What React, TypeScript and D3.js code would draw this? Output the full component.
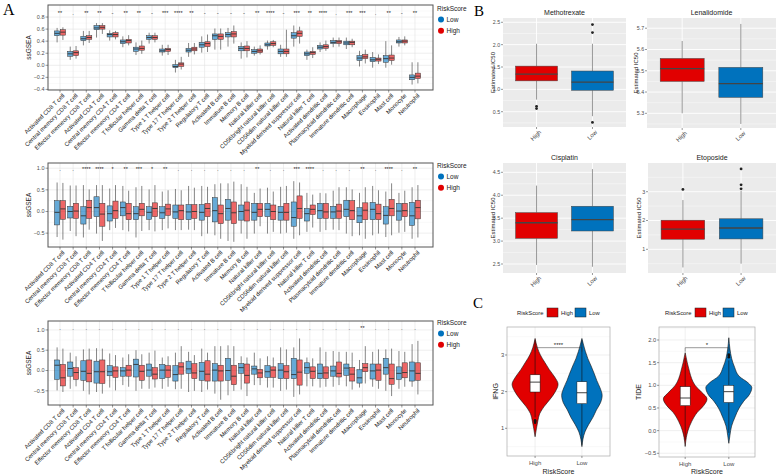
import React from 'react';
import * as d3 from 'd3';

const FONT = "'Liberation Sans', Arial, sans-serif";
const SERIF = "'Liberation Serif', 'Times New Roman', serif";
const RED = '#E10000';
const BLUE = '#0072BD';

const cells = [
  'Activated CD8 T cell', 'Central memory CD8 T cell', 'Effector memeory CD8 T cell',
  'Activated CD4 T cell', 'Central memory CD4 T cell', 'Effector memeory CD4 T cell',
  'T follicular helper cell', 'Gamma delta T cell', 'Type 1 T helper cell',
  'Type 17 T helper cell', 'Type 2 T helper cell', 'Regulatory T cell',
  'Activated B cell', 'Immature B cell', 'Memory B cell', 'Natural killer cell',
  'CD56bright natural killer cell', 'CD56dim natural killer cell',
  'Myeloid derived suppressor cell', 'Natural killer T cell',
  'Activated dendritic cell', 'Plasmacytoid dendritic cell', 'Immature dendritic cell',
  'Macrophage', 'Eosinophil', 'Mast cell', 'Monocyte', 'Neutrophil',
];

// box stats: [min, q1, median, q3, max]
const topLow = [
  [0.38, 0.49, 0.53, 0.57, 0.62], [0.09, 0.15, 0.19, 0.23, 0.31], [0.33, 0.41, 0.44, 0.48, 0.57],
  [0.46, 0.59, 0.62, 0.66, 0.70], [0.41, 0.47, 0.51, 0.53, 0.58], [0.30, 0.36, 0.39, 0.42, 0.48],
  [0.17, 0.23, 0.27, 0.30, 0.38], [0.36, 0.43, 0.46, 0.49, 0.54], [0.16, 0.22, 0.24, 0.27, 0.34],
  [-0.12, -0.04, -0.02, 0.01, 0.09], [0.14, 0.22, 0.25, 0.28, 0.37], [0.21, 0.30, 0.34, 0.38, 0.48],
  [0.26, 0.43, 0.49, 0.52, 0.61], [0.31, 0.47, 0.51, 0.54, 0.62], [0.11, 0.24, 0.28, 0.31, 0.38],
  [0.16, 0.20, 0.23, 0.26, 0.31], [0.26, 0.32, 0.34, 0.37, 0.41], [0.14, 0.19, 0.23, 0.27, 0.34],
  [0.31, 0.45, 0.49, 0.54, 0.66], [0.09, 0.16, 0.19, 0.22, 0.26], [0.22, 0.27, 0.30, 0.33, 0.38],
  [0.30, 0.36, 0.38, 0.41, 0.46], [0.27, 0.34, 0.37, 0.40, 0.46], [-0.02, 0.08, 0.12, 0.16, 0.24],
  [-0.04, 0.06, 0.09, 0.13, 0.22], [-0.04, 0.05, 0.11, 0.16, 0.40], [0.31, 0.37, 0.39, 0.42, 0.47],
  [-0.32, -0.24, -0.20, -0.16, 0.05],
];
const topHigh = [
  [0.42, 0.50, 0.55, 0.59, 0.63], [0.11, 0.16, 0.21, 0.24, 0.32], [0.37, 0.43, 0.46, 0.49, 0.57],
  [0.52, 0.60, 0.63, 0.66, 0.70], [0.43, 0.47, 0.51, 0.54, 0.57], [0.33, 0.37, 0.41, 0.43, 0.50],
  [0.19, 0.25, 0.28, 0.32, 0.41], [0.38, 0.43, 0.46, 0.49, 0.54], [0.17, 0.23, 0.26, 0.28, 0.34],
  [-0.07, -0.02, 0.02, 0.04, 0.14], [0.18, 0.24, 0.27, 0.30, 0.37], [0.22, 0.31, 0.36, 0.39, 0.51],
  [0.26, 0.43, 0.48, 0.52, 0.61], [0.36, 0.47, 0.52, 0.56, 0.66], [0.13, 0.24, 0.28, 0.32, 0.40],
  [0.18, 0.21, 0.24, 0.27, 0.33], [0.30, 0.33, 0.36, 0.39, 0.42], [0.14, 0.19, 0.23, 0.27, 0.59],
  [0.36, 0.48, 0.53, 0.57, 0.64], [0.12, 0.18, 0.21, 0.23, 0.30], [0.24, 0.28, 0.31, 0.34, 0.41],
  [0.31, 0.36, 0.39, 0.41, 0.46], [0.30, 0.34, 0.38, 0.40, 0.44], [0.03, 0.11, 0.14, 0.18, 0.26],
  [0.02, 0.07, 0.10, 0.12, 0.18], [0.01, 0.08, 0.12, 0.17, 0.33], [0.33, 0.37, 0.40, 0.42, 0.48],
  [-0.30, -0.22, -0.18, -0.13, 0.05],
];
const topSig = ['**', '.', '**', '**', '-', '**', '**', '-', '***', '****', '**', '-', '-', '-',
  '-', '**', '****', '-', '***', '**', '****', '.', '***', '***', '.', '**', '-', '**'];

const midLow = [
  [-0.59, -0.31, -0.02, 0.25, 0.67], [-0.45, -0.15, 0.00, 0.12, 0.60], [-0.60, -0.29, -0.10, 0.11, 0.61],
  [-0.51, -0.12, 0.09, 0.34, 0.61], [-0.43, -0.22, -0.05, 0.13, 0.53], [-0.43, -0.10, 0.09, 0.22, 0.59],
  [-0.60, -0.19, -0.05, 0.11, 0.56], [-0.43, -0.18, -0.02, 0.11, 0.51], [-0.43, -0.16, -0.03, 0.11, 0.46],
  [-0.43, -0.16, -0.01, 0.15, 0.52], [-0.42, -0.19, -0.01, 0.16, 0.59], [-0.57, -0.20, -0.02, 0.16, 0.59],
  [-0.55, -0.24, 0.02, 0.32, 0.63], [-0.68, -0.20, 0.07, 0.28, 0.65], [-0.51, -0.20, 0.00, 0.15, 0.63],
  [-0.51, -0.20, -0.02, 0.19, 0.43], [-0.51, -0.12, 0.05, 0.19, 0.55], [-0.51, -0.20, -0.02, 0.12, 0.57],
  [-0.63, -0.34, -0.14, 0.22, 0.70], [-0.47, -0.22, -0.05, 0.07, 0.43], [-0.47, -0.16, 0.02, 0.19, 0.43],
  [-0.42, -0.16, -0.01, 0.12, 0.48], [-0.51, -0.12, 0.05, 0.26, 0.56], [-0.55, -0.26, -0.10, 0.09, 0.43],
  [-0.55, -0.19, 0.05, 0.21, 0.59], [-0.59, -0.29, -0.09, 0.11, 0.46], [-0.49, -0.20, 0.01, 0.19, 0.43],
  [-0.63, -0.32, -0.10, 0.21, 0.56],
];
const midHigh = [
  [-0.65, -0.18, 0.06, 0.25, 0.66], [-0.57, -0.16, 0.01, 0.19, 0.60], [-0.42, -0.16, 0.09, 0.26, 0.51],
  [-0.68, -0.34, -0.06, 0.19, 0.61], [-0.38, -0.16, 0.02, 0.24, 0.61], [-0.46, -0.19, -0.05, 0.19, 0.48],
  [-0.45, -0.10, 0.05, 0.19, 0.59], [-0.46, -0.12, 0.07, 0.20, 0.61], [-0.39, -0.09, 0.06, 0.17, 0.49],
  [-0.43, -0.19, 0.02, 0.15, 0.49], [-0.43, -0.16, 0.00, 0.16, 0.55], [-0.51, -0.12, 0.07, 0.19, 0.57],
  [-0.63, -0.28, -0.05, 0.15, 0.65], [-0.70, -0.28, -0.03, 0.22, 0.69], [-0.63, -0.22, 0.03, 0.22, 0.57],
  [-0.34, -0.12, 0.05, 0.19, 0.53], [-0.47, -0.19, 0.00, 0.15, 0.46], [-0.49, -0.20, -0.02, 0.19, 0.59],
  [-0.55, -0.16, 0.07, 0.36, 0.67], [-0.37, -0.07, 0.05, 0.15, 0.39], [-0.43, -0.16, -0.01, 0.19, 0.42],
  [-0.43, -0.16, 0.01, 0.17, 0.56], [-0.57, -0.19, 0.02, 0.25, 0.51], [-0.63, -0.19, 0.03, 0.20, 0.56],
  [-0.51, -0.19, -0.05, 0.17, 0.49], [-0.55, -0.10, 0.07, 0.28, 0.65], [-0.47, -0.12, 0.02, 0.19, 0.48],
  [-0.60, -0.17, 0.09, 0.26, 0.61],
];
const midSig = ['.', '.', '****', '****', '*', '**', '***', '*', '**', '.', '.', '.', '.', '.',
  '.', '**', '.', '.', '***', '****', '.', '.', '.', '**', '.', '****', '.', '**'];

const botLow = [
  [-0.49, -0.22, 0.13, 0.26, 0.57], [-0.45, -0.14, 0.05, 0.21, 0.44], [-0.50, -0.24, -0.02, 0.24, 0.52],
  [-0.53, -0.31, -0.03, 0.23, 0.55], [-0.42, -0.13, -0.03, 0.12, 0.42], [-0.36, -0.14, -0.01, 0.07, 0.32],
  [-0.50, -0.16, 0.15, 0.28, 0.50], [-0.45, -0.14, 0.01, 0.16, 0.44], [-0.45, -0.20, 0.01, 0.15, 0.32],
  [-0.46, -0.26, -0.10, 0.12, 0.44], [-0.53, -0.07, 0.04, 0.23, 0.46], [-0.53, -0.24, -0.02, 0.20, 0.54],
  [-0.57, -0.26, 0.01, 0.17, 0.60], [-0.61, -0.24, 0.00, 0.30, 0.62], [-0.47, -0.07, 0.07, 0.17, 0.35],
  [-0.36, -0.09, 0.04, 0.11, 0.44], [-0.42, -0.17, -0.03, 0.12, 0.35], [-0.50, -0.20, 0.01, 0.17, 0.57],
  [-0.65, -0.20, -0.10, 0.30, 0.57], [-0.39, -0.07, 0.07, 0.19, 0.32], [-0.42, -0.20, -0.07, 0.16, 0.57],
  [-0.40, -0.14, -0.01, 0.11, 0.48], [-0.39, -0.12, 0.06, 0.16, 0.46], [-0.42, -0.31, -0.18, 0.02, 0.26],
  [-0.40, -0.21, -0.01, 0.16, 0.46], [-0.50, -0.09, 0.07, 0.30, 0.52], [-0.45, -0.22, -0.07, 0.09, 0.48],
  [-0.40, -0.26, -0.01, 0.21, 0.65],
];
const botHigh = [
  [-0.53, -0.38, -0.18, 0.15, 0.54], [-0.39, -0.22, -0.05, 0.07, 0.35], [-0.59, -0.28, -0.07, 0.26, 0.54],
  [-0.57, -0.32, -0.03, 0.26, 0.54], [-0.49, -0.17, -0.01, 0.09, 0.38], [-0.40, -0.14, 0.01, 0.13, 0.40],
  [-0.45, -0.24, -0.02, 0.13, 0.40], [-0.42, -0.21, -0.09, 0.07, 0.49], [-0.40, -0.17, 0.01, 0.12, 0.35],
  [-0.45, -0.09, 0.09, 0.19, 0.60], [-0.50, -0.20, -0.06, 0.17, 0.38], [-0.47, -0.26, -0.09, 0.24, 0.44],
  [-0.72, -0.26, -0.01, 0.13, 0.60], [-0.50, -0.35, -0.14, 0.13, 0.60], [-0.63, -0.31, -0.12, 0.16, 0.32],
  [-0.36, -0.18, -0.06, 0.03, 0.30], [-0.42, -0.17, 0.01, 0.09, 0.32], [-0.47, -0.20, -0.03, 0.12, 0.52],
  [-0.59, -0.36, -0.04, 0.26, 0.79], [-0.39, -0.20, -0.02, 0.09, 0.30], [-0.40, -0.20, -0.06, 0.09, 0.46],
  [-0.36, -0.16, -0.07, 0.21, 0.46], [-0.47, -0.26, -0.09, 0.07, 0.44], [-0.32, -0.03, 0.07, 0.17, 0.60],
  [-0.45, -0.24, 0.01, 0.16, 0.52], [-0.63, -0.34, -0.20, 0.16, 0.54], [-0.40, -0.18, -0.05, 0.19, 0.46],
  [-0.59, -0.24, -0.07, 0.19, 0.73],
];
const botSig = ['.', '.', '.', '.', '.', '.', '.', '.', '.', '.', '.', '.', '.', '.',
  '.', '.', '.', '.', '.', '.', '.', '.', '.', '**', '.', '.', '.', '.'];

const topTicks = [-0.4, -0.2, 0, 0.2, 0.4, 0.6, 0.8];
const midTicks = [-0.5, 0, 0.5, 1.0];
const botTicks = [-0.5, 0, 0.5, 1.0];

// drug sensitivity (Estimated IC50)
const drugGroups = ['High', 'Low'];
const methoHigh = [0.77, 1.19, 1.34, 1.52, 2.02];
const methoLow = [0.40, 0.98, 1.16, 1.41, 2.02];
const methoHighOut = [0.62, 0.57];
const methoLowOut = [2.27, 2.45, 0.26];
const methoTicks = [0.5, 1.0, 1.5, 2.0, 2.5];
const lenaHigh = [5.30, 5.45, 5.51, 5.558, 5.64];
const lenaLow = [5.25, 5.375, 5.44, 5.516, 5.72];
const lenaTicks = [5.3, 5.4, 5.5, 5.6, 5.7];
const cisHigh = [2.48, 3.06, 3.40, 3.62, 4.21];
const cisLow = [2.44, 3.22, 3.47, 3.76, 4.57];
const cisTicks = [2.5, 3.0, 3.5, 4.0, 4.5];
const etoHigh = [0.37, 1.35, 1.70, 2.01, 2.71];
const etoLow = [0.50, 1.36, 1.74, 2.06, 3.03];
const etoHighOut = [3.08];
const etoLowOut = [3.10, 3.24, 3.79];
const etoTicks = [1, 2, 3];

// violins: [value, relative density]
const ifngHighDens = [[0.77, 0], [1.0, 0.06], [1.2, 0.12], [1.4, 0.2], [1.6, 0.4], [1.8, 0.66], [2.0, 0.88],
  [2.2, 1.0], [2.4, 0.85], [2.6, 0.62], [2.8, 0.42], [3.0, 0.23], [3.2, 0.1], [3.45, 0]];
const ifngLowDens = [[0.5, 0], [0.7, 0.044], [0.9, 0.13], [1.1, 0.29], [1.3, 0.48], [1.5, 0.63], [1.7, 0.81],
  [1.9, 0.88], [2.1, 0.79], [2.3, 0.65], [2.5, 0.53], [2.7, 0.4], [2.9, 0.26], [3.1, 0.15], [3.3, 0.06], [3.45, 0]];
const ifngHighBox = [1.3, 1.99, 2.26, 2.46, 3.4];
const ifngLowBox = [0.55, 1.67, 1.97, 2.27, 3.4];
const ifngHighOut = [1.15, 1.19, 1.22];
const ifngTicks = [1, 2, 3];
const tideHighDens = [[-0.35, 0], [-0.15, 0.05], [0.0, 0.12], [0.2, 0.28], [0.4, 0.52], [0.55, 0.8], [0.7, 0.95],
  [0.85, 0.71], [1.0, 0.43], [1.15, 0.28], [1.3, 0.19], [1.5, 0.09], [1.72, 0]];
const tideLowDens = [[-0.28, 0], [-0.1, 0.05], [0.1, 0.12], [0.3, 0.27], [0.5, 0.45], [0.65, 0.65], [0.8, 0.9],
  [0.95, 1.0], [1.05, 0.85], [1.2, 0.45], [1.4, 0.25], [1.6, 0.12], [1.8, 0.05], [2.05, 0]];
const tideHighBox = [-0.2, 0.55, 0.72, 0.97, 1.6];
const tideLowBox = [-0.05, 0.62, 0.86, 1.0, 1.55];
const tideLowOut = [1.62, 1.65, 1.68];
const tideTicks = [-0.5, 0, 0.5, 1.0, 1.5, 2.0];

function minorOf(ticks, domain) {
  const step = ticks[1] - ticks[0];
  const out = [];
  for (let i = -1; i < ticks.length; i++) {
    const v = (i < 0 ? ticks[0] - step : ticks[i]) + step / 2;
    if (v > domain[0] && v < domain[1]) out.push(v);
  }
  return out;
}

function Box({ cx, w, s, y, fill, opacity = 1, stroke = '#333', wStroke = '#333', medW = 1 }) {
  const [mn, q1, md, q3, mx] = s;
  return (
    <g>
      <line x1={cx} x2={cx} y1={y(mx)} y2={y(q3)} stroke={wStroke} strokeWidth={0.6} />
      <line x1={cx} x2={cx} y1={y(q1)} y2={y(mn)} stroke={wStroke} strokeWidth={0.6} />
      <rect x={cx - w / 2} width={w} y={y(q3)} height={y(q1) - y(q3)} fill={fill}
        fillOpacity={opacity} stroke={stroke} strokeWidth={0.5} />
      <line x1={cx - w / 2} x2={cx + w / 2} y1={y(md)} y2={y(md)} stroke={stroke} strokeWidth={medW} />
    </g>
  );
}

function SsgseaPanel({ top, bottom, domain, ticks, low, high, sig, sigAt, legendY }) {
  const L = 48, R = 433;
  const y = d3.scaleLinear().domain(domain).range([bottom, top]);
  const x = d3.scalePoint().domain(cells).range([60, 415]);
  const fmt = d3.format('.1f');
  const minor = minorOf(ticks, domain);
  return (
    <g>
      <rect x={L} y={top} width={R - L} height={bottom - top} fill="#fff" />
      {minor.map(v => <line key={'m' + v} x1={L} x2={R} y1={y(v)} y2={y(v)} stroke="#f2f2f2" strokeWidth={0.5} />)}
      {ticks.map(v => <line key={'g' + v} x1={L} x2={R} y1={y(v)} y2={y(v)} stroke="#e3e3e3" strokeWidth={0.6} />)}
      {cells.map(c => <line key={'v' + c} x1={x(c)} x2={x(c)} y1={top} y2={bottom} stroke="#e3e3e3" strokeWidth={0.6} />)}
      {cells.map((c, i) => (
        <g key={'b' + c}>
          <Box cx={x(c) - 2.9} w={5.2} s={low[i]} y={y} fill={BLUE} opacity={0.6} medW={0.9} />
          <Box cx={x(c) + 2.9} w={5.2} s={high[i]} y={y} fill={RED} opacity={0.6} medW={0.9} />
          <text x={x(c)} y={y(sigAt)} textAnchor="middle" fontSize={sig[i] === '.' || sig[i] === '-' ? 6 : 5.5}
            fill="#222">{sig[i]}</text>
        </g>
      ))}
      <rect x={L} y={top} width={R - L} height={bottom - top} fill="none" stroke="#555" strokeWidth={1} />
      {ticks.map(v => (
        <g key={'t' + v}>
          <line x1={L - 2.5} x2={L} y1={y(v)} y2={y(v)} stroke="#333" strokeWidth={0.5} />
          <text x={L - 3.5} y={y(v) + 1.9} textAnchor="end" fontSize={5.5} fill="#4d4d4d">{fmt(v)}</text>
        </g>
      ))}
      <text transform={`translate(31,${(top + bottom) / 2}) rotate(-90)`} textAnchor="middle" fontSize={6.5} fill="#222">ssGSEA</text>
      {cells.map(c => (
        <g key={'l' + c}>
          <line x1={x(c)} x2={x(c)} y1={bottom} y2={bottom + 2.5} stroke="#333" strokeWidth={0.5} />
          <text transform={`translate(${x(c) + 2},${bottom + 3}) rotate(-45)`} textAnchor="end" dy="0.72em"
            fontSize={6} fill="#222">{c}</text>
        </g>
      ))}
      <text x={437} y={legendY} fontSize={6.5} fill="#222">RiskScore</text>
      <circle cx={441} cy={legendY + 8.5} r={3} fill={BLUE} />
      <text x={446.5} y={legendY + 10.6} fontSize={6.5} fill="#222">Low</text>
      <circle cx={441} cy={legendY + 19.8} r={3} fill={RED} />
      <text x={446.5} y={legendY + 21.9} fontSize={6.5} fill="#222">High</text>
    </g>
  );
}

function DrugPanel({ x0, x1, y0, y1, title, domain, ticks, fmt, high, low, highOut = [], lowOut = [], titleX }) {
  const u = (x1 - x0) / 2.2;
  const x = d3.scalePoint().domain(drugGroups).range([x0 + 0.6 * u, x1 - 0.6 * u]);
  const y = d3.scaleLinear().domain(domain).range([y1, y0]);
  const f = d3.format(fmt);
  const minor = minorOf(ticks, domain);
  const bw = 0.75 * u;
  return (
    <g>
      <rect x={x0} y={y0} width={x1 - x0} height={y1 - y0} fill="#EBEBEB" />
      {minor.map(v => <line key={'m' + v} x1={x0} x2={x1} y1={y(v)} y2={y(v)} stroke="#fff" strokeWidth={0.4} />)}
      {ticks.map(v => <line key={'g' + v} x1={x0} x2={x1} y1={y(v)} y2={y(v)} stroke="#fff" strokeWidth={0.9} />)}
      {drugGroups.map(g => <line key={'v' + g} x1={x(g)} x2={x(g)} y1={y0} y2={y1} stroke="#fff" strokeWidth={0.9} />)}
      <Box cx={x('High')} w={bw} s={high} y={y} fill={RED} stroke="#444" wStroke="#555" medW={1.3} />
      <Box cx={x('Low')} w={bw} s={low} y={y} fill={BLUE} stroke="#444" wStroke="#555" medW={1.3} />
      {highOut.map((v, i) => <circle key={'ho' + i} cx={x('High')} cy={y(v)} r={1.4} fill="#222" />)}
      {lowOut.map((v, i) => <circle key={'lo' + i} cx={x('Low')} cy={y(v)} r={1.4} fill="#222" />)}
      {ticks.map(v => (
        <g key={'t' + v}>
          <line x1={x0 - 2} x2={x0} y1={y(v)} y2={y(v)} stroke="#333" strokeWidth={0.5} />
          <text x={x0 - 2.8} y={y(v) + 1.9} textAnchor="end" fontSize={5.3} fill="#4d4d4d">{f(v)}</text>
        </g>
      ))}
      {drugGroups.map(g => (
        <g key={'x' + g}>
          <line x1={x(g)} x2={x(g)} y1={y1} y2={y1 + 2} stroke="#333" strokeWidth={0.5} />
          <text transform={`translate(${x(g) + 2},${y1 + 2.5}) rotate(-45)`} textAnchor="end" dy="0.72em"
            fontSize={6} fill="#4d4d4d">{g}</text>
        </g>
      ))}
      <text x={(x0 + x1) / 2} y={y0 - 3} textAnchor="middle" fontSize={7} fill="#222">{title}</text>
      <text transform={`translate(${titleX},${(y0 + y1) / 2}) rotate(-90)`} textAnchor="middle" fontSize={6} fill="#222">Estimated IC50</text>
    </g>
  );
}

function ViolinPanel({ x0, x1, y0, y1, domain, ticks, fmt, highDens, lowDens, highBox, lowBox,
  highOut = [], lowOut = [], yTitle, yTitleX, bracketAt, bracketLabel, legendX }) {
  const u = (x1 - x0) / 2.2;
  const x = d3.scalePoint().domain(drugGroups).range([x0 + 0.6 * u, x1 - 0.6 * u]);
  const y = d3.scaleLinear().domain(domain).range([y1, y0]);
  const f = d3.format(fmt);
  const minor = minorOf(ticks, domain);
  const k = 23;
  const area = cx => d3.area().y(d => y(d[0])).x0(d => cx - d[1] * k).x1(d => cx + d[1] * k).curve(d3.curveMonotoneY);
  const hx = x('High'), lx = x('Low');
  const by = y(bracketAt);
  return (
    <g>
      <rect x={x0} y={y0} width={x1 - x0} height={y1 - y0} fill="#fff" />
      {minor.map(v => <line key={'m' + v} x1={x0} x2={x1} y1={y(v)} y2={y(v)} stroke="#f3f3f3" strokeWidth={0.5} />)}
      {ticks.map(v => <line key={'g' + v} x1={x0} x2={x1} y1={y(v)} y2={y(v)} stroke="#e6e6e6" strokeWidth={0.6} />)}
      {drugGroups.map(g => <line key={'v' + g} x1={x(g)} x2={x(g)} y1={y0} y2={y1} stroke="#e6e6e6" strokeWidth={0.6} />)}
      <path d={area(hx)(highDens)} fill={RED} stroke="#111" strokeWidth={0.6} />
      <path d={area(lx)(lowDens)} fill={BLUE} stroke="#111" strokeWidth={0.6} />
      <Box cx={hx} w={10} s={highBox} y={y} fill="#fff" stroke="#111" wStroke="#111" medW={0.8} />
      <Box cx={lx} w={10} s={lowBox} y={y} fill="#fff" stroke="#111" wStroke="#111" medW={0.8} />
      {highOut.map((v, i) => <circle key={'ho' + i} cx={hx} cy={y(v)} r={1.3} fill="#111" />)}
      {lowOut.map((v, i) => <circle key={'lo' + i} cx={lx} cy={y(v)} r={1.3} fill="#111" />)}
      <path d={`M${hx},${by + 4}V${by}H${lx}V${by + 4}`} fill="none" stroke="#333" strokeWidth={0.5} />
      <text x={(hx + lx) / 2} y={by - 1} textAnchor="middle" fontSize={6} fill="#222">{bracketLabel}</text>
      <rect x={x0} y={y0} width={x1 - x0} height={y1 - y0} fill="none" stroke="#aaa" strokeWidth={0.7} />
      {ticks.map(v => (
        <g key={'t' + v}>
          <line x1={x0 - 2} x2={x0} y1={y(v)} y2={y(v)} stroke="#333" strokeWidth={0.5} />
          <text x={x0 - 2.8} y={y(v) + 2} textAnchor="end" fontSize={5.8} fill="#4d4d4d">{f(v)}</text>
        </g>
      ))}
      {drugGroups.map(g => (
        <g key={'x' + g}>
          <line x1={x(g)} x2={x(g)} y1={y1} y2={y1 + 2} stroke="#333" strokeWidth={0.5} />
          <text x={x(g)} y={y1 + 8.5} textAnchor="middle" fontSize={6} fill="#4d4d4d">{g}</text>
        </g>
      ))}
      <text x={(x0 + x1) / 2} y={474} textAnchor="middle" fontSize={7} fill="#222">RiskScore</text>
      <text transform={`translate(${yTitleX},${(y0 + y1) / 2}) rotate(-90)`} textAnchor="middle" fontSize={7} fill="#222">{yTitle}</text>
      <text x={legendX} y={314.5} fontSize={5.8} fill="#222">RiskScore</text>
      <rect x={legendX + 30} y={308} width={11} height={9} fill={RED} stroke="#222" strokeWidth={0.5} />
      <text x={legendX + 44} y={314.5} fontSize={5.8} fill="#222">High</text>
      <rect x={legendX + 58} y={308} width={11} height={9} fill={BLUE} stroke="#222" strokeWidth={0.5} />
      <text x={legendX + 72} y={314.5} fontSize={5.8} fill="#222">Low</text>
    </g>
  );
}

export default function App() {
  return (
    <div style={{ position: 'fixed', left: 0, top: 0 }}>
      <svg width={777} height={476} style={{ display: 'block', background: '#fff' }} fontFamily={FONT}>
        <text x={3} y={15} fontFamily={SERIF} fontSize={16}>A</text>
        <text x={474} y={16} fontFamily={SERIF} fontSize={15}>B</text>
        <text x={473} y={308} fontFamily={SERIF} fontSize={15}>C</text>
        <SsgseaPanel top={5} bottom={90} domain={[-0.41, 1.0]} ticks={topTicks} low={topLow} high={topHigh}
          sig={topSig} sigAt={0.83} legendY={11} />
        <SsgseaPanel top={163} bottom={247} domain={[-0.82, 1.12]} ticks={midTicks} low={midLow} high={midHigh}
          sig={midSig} sigAt={0.93} legendY={168} />
        <SsgseaPanel top={321} bottom={405} domain={[-0.85, 1.22]} ticks={botTicks} low={botLow} high={botHigh}
          sig={botSig} sigAt={1.01} legendY={325} />
        <DrugPanel x0={503} x1={626} y0={18} y1={127} title="Methotrexate" domain={[0.158, 2.596]}
          ticks={methoTicks} fmt=".1f" high={methoHigh} low={methoLow} highOut={methoHighOut} lowOut={methoLowOut} titleX={495} />
        <DrugPanel x0={647} x1={776} y0={18} y1={128} title="Lenalidomide" domain={[5.231, 5.748]}
          ticks={lenaTicks} fmt=".1f" high={lenaHigh} low={lenaLow} titleX={638} />
        <DrugPanel x0={503} x1={626} y0={163} y1={273} title="Cisplatin" domain={[2.304, 4.703]}
          ticks={cisTicks} fmt=".1f" high={cisHigh} low={cisLow} titleX={495} />
        <DrugPanel x0={648} x1={776} y0={163} y1={273} title="Etoposide" domain={[0.177, 3.997]}
          ticks={etoTicks} fmt="d" high={etoHigh} low={etoLow} highOut={etoHighOut} lowOut={etoLowOut} titleX={641} />
        <ViolinPanel x0={507} x1={610} y0={327} y1={456} domain={[0.244, 3.764]} ticks={ifngTicks} fmt="d"
          highDens={ifngHighDens} lowDens={ifngLowDens} highBox={ifngHighBox} lowBox={ifngLowBox}
          highOut={ifngHighOut} yTitle="IFNG" yTitleX={498} bracketAt={3.2} bracketLabel="****" legendX={517} />
        <ViolinPanel x0={659} x1={755} y0={327} y1={457} domain={[-0.582, 2.287]} ticks={tideTicks} fmt=".1f"
          highDens={tideHighDens} lowDens={tideLowDens} highBox={tideHighBox} lowBox={tideLowBox}
          lowOut={tideLowOut} yTitle="TIDE" yTitleX={641} bracketAt={1.83} bracketLabel="*" legendX={665} />
      </svg>
    </div>
  );
}
